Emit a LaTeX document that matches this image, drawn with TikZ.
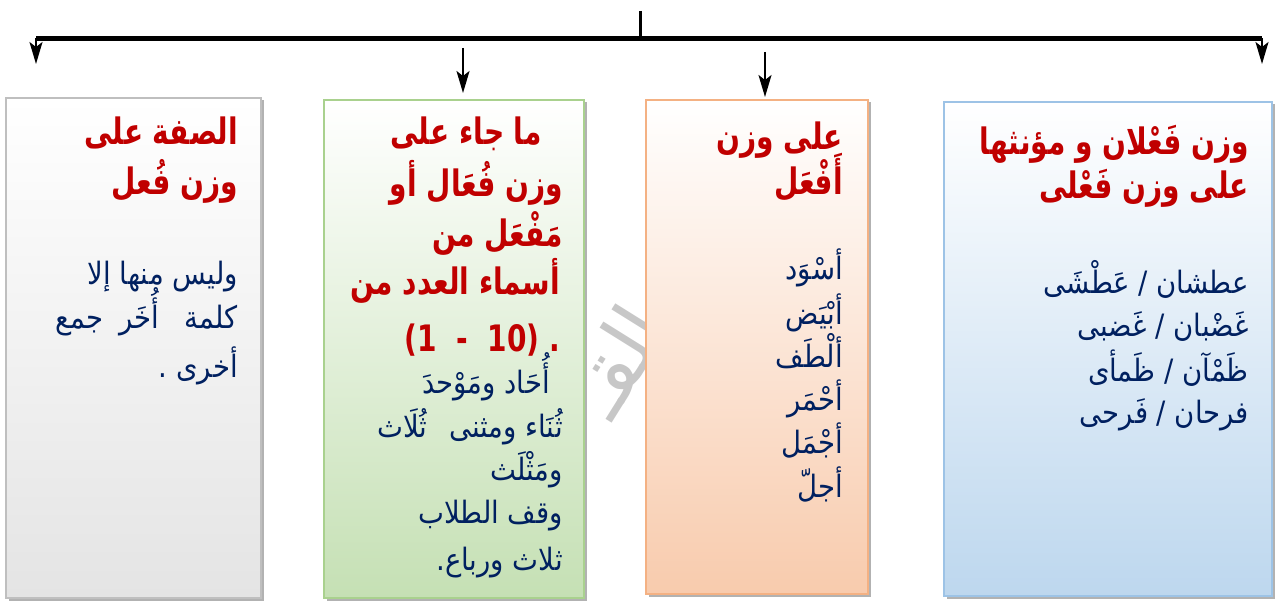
\documentclass[tikz,border=0pt]{standalone}
\usepackage{fontspec}
\setmainfont{DejaVu Sans}
\newfontfamily\arabicfont[Script=Arabic]{DejaVu Sans}
\TeXXeTstate=1
\usetikzlibrary{arrows.meta,shadows}
\definecolor{tred}{RGB}{192,0,0}
\definecolor{tnavy}{RGB}{0,32,96}
\definecolor{gborder}{RGB}{191,191,191}
\definecolor{gfill}{RGB}{228,228,228}
\definecolor{grborder}{RGB}{169,209,142}
\definecolor{grfill}{RGB}{197,224,180}
\definecolor{oborder}{RGB}{244,177,131}
\definecolor{ofill}{RGB}{248,203,173}
\definecolor{bborder}{RGB}{157,195,230}
\definecolor{bfill}{RGB}{189,215,238}
\newcommand\artl[1]{\scalebox{1}[1.3]{\beginR #1\endR}}
\newcommand\arbd[1]{\scalebox{1}[1.12]{\beginR #1\endR}}
\tikzset{
  ttl/.style={anchor=base east, inner sep=0pt, text=tred, font=\arabicfont\bfseries\fontsize{28}{34}\selectfont},
  bdy/.style={anchor=base east, inner sep=0pt, text=tnavy, font=\arabicfont\fontsize{27.5}{32}\selectfont},
  boxnode/.style={rectangle, inner sep=0pt, line width=2.2pt, top color=white,
    drop shadow={shadow xshift=2.5pt, shadow yshift=-2.5pt, fill=black, opacity=.3}},
  thickline/.style={line width=5.5pt, black},
  thinarrow/.style={line width=1.8pt, black, -{Stealth[length=22pt,width=13pt,inset=5pt]}},
}
\begin{document}
\begin{tikzpicture}[x=1pt,y=-1pt]
\useasboundingbox (0,0) rectangle (1276,601);
% watermark
\node[rotate=58, text=black!22, font=\arabicfont\fontsize{80}{90}\selectfont] (wm) at (616,360) {\beginR القـ\endR};
% boxes
\node[boxnode, draw=gborder, bottom color=gfill, minimum width=255pt, minimum height=500pt] (box1) at (133.5,348) {};
\node[boxnode, draw=grborder, bottom color=grfill, minimum width=260pt, minimum height=498pt] (box2) at (454,349) {};
\node[boxnode, draw=oborder, bottom color=ofill, minimum width=222pt, minimum height=494pt] (box3) at (757,347) {};
\node[boxnode, draw=bborder, bottom color=bfill, minimum width=328pt, minimum height=494pt] (box4) at (1108,349) {};
% connectors
\coordinate (top) at (640,11);
\coordinate (mid) at (640,38.5);
\coordinate (hl) at (36,38.5);
\coordinate (hr) at (1262,38.5);
\coordinate (el) at (36,64);
\coordinate (er) at (1262,64);
\coordinate (a2s) at (463,48);
\coordinate (a2e) at (463,93);
\coordinate (a3s) at (765,52);
\coordinate (a3e) at (765,97);
\draw[line width=3pt] (top) -- (mid);
\draw[thickline] (hl) -- (hr);
\draw[thinarrow] (hl) -- (el);
\draw[thinarrow] (hr) -- (er);
\draw[thinarrow] (a2s) -- (a2e);
\draw[thinarrow] (a3s) -- (a3e);
% blue box texts
\node[ttl] (b4t1) at (1249,155) {\artl{وزن فَعْلان و مؤنثها}};
\node[ttl] (b4t2) at (1249,199) {\artl{على وزن  فَعْلى}};
\node[bdy] (b4l1) at (1249,294) {\arbd{عطشان / عَطْشَى}};
\node[bdy] (b4l2) at (1249,337) {\arbd{غَضْبان / غَضبى}};
\node[bdy] (b4l3) at (1249,381) {\arbd{ظَمْآن / ظَمأى}};
\node[bdy] (b4l4) at (1249,423) {\arbd{فرحان / فَرحى}};
% orange box texts
\node[ttl] (b3t1) at (843,150) {\artl{على وزن}};
\node[ttl] (b3t2) at (843,195) {\artl{أَفْعَل}};
\node[bdy] (b3l1) at (843,280) {\arbd{أسْوَد}};
\node[bdy] (b3l2) at (843,325) {\arbd{أبْيَض}};
\node[bdy] (b3l3) at (843,367) {\arbd{ألْطَف}};
\node[bdy] (b3l4) at (843,410) {\arbd{أحْمَر}};
\node[bdy] (b3l5) at (843,453) {\arbd{أجْمَل}};
\node[bdy] (b3l6) at (843,497) {\arbd{أجلّ}};
% green box texts
\node[ttl] (b2t1) at (542,145) {\artl{ما جاء على}};
\node[ttl] (b2t2) at (563,197) {\artl{وزن  فُعَال أو}};
\node[ttl] (b2t3) at (563,247) {\artl{مَفْعَل  من}};
\node[ttl] (b2t4) at (560,295) {\artl{أسماء العدد من}};
\node[ttl, font=\bfseries\fontsize{28}{34}\selectfont] (b2t5) at (560,352) {\scalebox{1}[1.3]{(1\ \ -\ \ 10) .}};
\node[bdy] (b2l1) at (550,393) {\arbd{أُحَاد ومَوْحدَ}};
\node[bdy] (b2l2) at (563,437) {\arbd{ثُنَاء ومثنى\hspace{22pt}ثُلَاث}};
\node[bdy] (b2l3) at (563,480) {\arbd{ومَثْلَث}};
\node[bdy] (b2l4) at (563,523) {\arbd{وقف الطلاب}};
\node[bdy] (b2l5) at (563,570) {\arbd{ثلاث ورباع.}};
% gray box texts
\node[ttl] (b1t1) at (238,145) {\artl{الصفة على}};
\node[ttl] (b1t2) at (238,195) {\artl{وزن  فُعل}};
\node[bdy] (b1l1) at (238,285) {\arbd{وليس منها إلا}};
\node[bdy] (b1l2) at (238,328) {\arbd{كلمة\hspace{26pt}أُخَر\hspace{16pt}جمع}};
\node[bdy] (b1l3) at (238,377) {\arbd{أخرى .}};
\end{tikzpicture}
\end{document}
